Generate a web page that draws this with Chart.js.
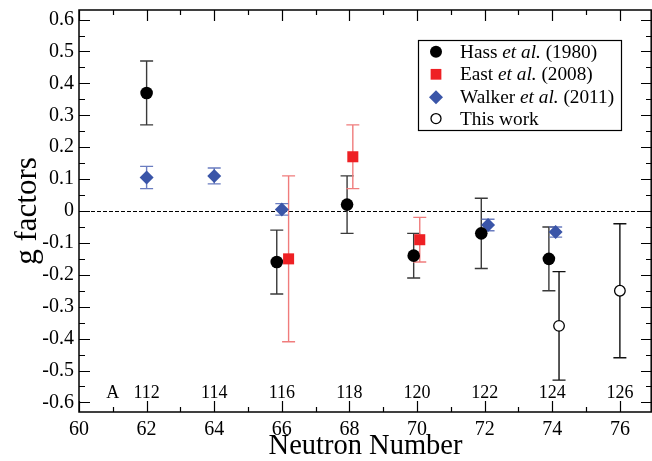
<!DOCTYPE html>
<html>
<head>
<meta charset="utf-8">
<script src="https://cdn.jsdelivr.net/npm/chart.js@4.4.1/dist/chart.umd.min.js"></script>
<style>
  html, body { margin: 0; padding: 0; background: #ffffff; }
  canvas { display: block; }
</style>
</head>
<body>
<canvas id="c" width="652" height="461"></canvas>
<script>
// ---------- data ----------
const hassN   = [62, 65.85, 67.93, 69.9, 71.9, 73.9];
const hassG   = [0.37, -0.16, 0.02, -0.14, -0.07, -0.15];
const hassErr = [0.10, 0.10, 0.09, 0.07, 0.11, 0.10];

const eastN   = [66.2, 68.1, 70.08];
const eastG   = [-0.15, 0.17, -0.09];
const eastErr = [0.26, 0.10, 0.07];

const walkerN   = [62, 64, 66, 72.1, 74.1];
const walkerG   = [0.105, 0.11, 0.005, -0.044, -0.066];
const walkerErr = [0.035, 0.025, 0.018, 0.018, 0.016];

const thisN   = [74.2, 76];
const thisG   = [-0.36, -0.25];
const thisErr = [0.17, 0.21];

const xTicks = [60, 62, 64, 66, 68, 70, 72, 74, 76];
const yTicks = [-0.6, -0.5, -0.4, -0.3, -0.2, -0.1, 0, 0.1, 0.2, 0.3, 0.4, 0.5, 0.6];
const yTickLabels = ['-0.6','-0.5','-0.4','-0.3','-0.2','-0.1','0','0.1','0.2','0.3','0.4','0.5','0.6'];

const massN      = [62, 64, 66, 68, 70, 72, 74, 76];
const massLabels = ['112', '114', '116', '118', '120', '122', '124', '126'];
const massTagN   = 61;
const massTag    = 'A';
const massY      = -0.57;

const legendLabels = [
  ['Hass ', 'et al.', ' (1980)'],
  ['East ', 'et al.', ' (2008)'],
  ['Walker ', 'et al.', ' (2011)'],
  ['This work', '', '']
];

const SERIF = 'Liberation Serif';
Chart.defaults.font.family = SERIF;
Chart.defaults.color = '#000';

function pts(xs, ys) { return xs.map((x, i) => ({ x: x, y: ys[i] })); }

// ---------- plugin: frame, inward ticks, zero line, error bars, annotations, legend ----------
const decor = {
  id: 'decor',
  beforeDatasetsDraw(chart) {
    const ctx = chart.ctx, xs = chart.scales.x, ys = chart.scales.y, a = chart.chartArea;
    ctx.save();
    ctx.strokeStyle = '#000';
    ctx.lineWidth = 1;
    ctx.setLineDash([4, 2]);
    ctx.beginPath();
    const y0 = Math.round(ys.getPixelForValue(0)) + 0.5;
    ctx.moveTo(a.left, y0); ctx.lineTo(a.right, y0);
    ctx.stroke();
    ctx.setLineDash([]);
    chart.data.datasets.forEach((ds) => {
      ctx.strokeStyle = ds.errColor;
      ctx.lineWidth = 1.4;
      ds.data.forEach((p, i) => {
        const e = ds.errors[i];
        const px = xs.getPixelForValue(p.x);
        const yt = ys.getPixelForValue(p.y + e);
        const yb = ys.getPixelForValue(p.y - e);
        const cw = 6.5;
        ctx.beginPath();
        ctx.moveTo(px, yt); ctx.lineTo(px, yb);
        ctx.moveTo(px - cw, yt); ctx.lineTo(px + cw, yt);
        ctx.moveTo(px - cw, yb); ctx.lineTo(px + cw, yb);
        ctx.stroke();
      });
    });
    ctx.restore();
  },
  afterDraw(chart) {
    const ctx = chart.ctx, xs = chart.scales.x, ys = chart.scales.y, a = chart.chartArea;
    ctx.save();
    ctx.strokeStyle = '#000';
    ctx.lineWidth = 1.5;
    ctx.strokeRect(a.left, a.top, a.right - a.left - 0.8, a.bottom - a.top);
    ctx.lineWidth = 1.2;
    ctx.beginPath();
    for (let n = 60; n <= 76; n++) {
      const px = Math.round(xs.getPixelForValue(n)) + 0.5;
      const len = (n % 2 === 0) ? 11 : 5;
      ctx.moveTo(px, a.bottom); ctx.lineTo(px, a.bottom - len);
      ctx.moveTo(px, a.top); ctx.lineTo(px, a.top + len);
    }
    for (let k = -12; k <= 12; k++) {
      const v = k * 0.05;
      const py = Math.round(ys.getPixelForValue(v)) + 0.5;
      const len = (k % 2 === 0) ? 11 : 6;
      ctx.moveTo(a.left, py); ctx.lineTo(a.left + len, py);
      ctx.moveTo(a.right, py); ctx.lineTo(a.right - len, py);
    }
    ctx.stroke();
    ctx.fillStyle = '#000';
    ctx.font = '18px "' + SERIF + '"';
    ctx.textAlign = 'center';
    ctx.textBaseline = 'middle';
    ctx.fillText(massTag, xs.getPixelForValue(massTagN), ys.getPixelForValue(massY));
    massN.forEach((n, i) => {
      ctx.fillText(massLabels[i], xs.getPixelForValue(n), ys.getPixelForValue(massY));
    });
    // legend
    const lx = 418, ly = 40, lw = 203, lh = 90;
    ctx.fillStyle = '#fff';
    ctx.fillRect(lx, ly, lw, lh);
    ctx.strokeStyle = '#000';
    ctx.lineWidth = 1.2;
    ctx.strokeRect(lx + 0.5, ly + 0.5, lw, lh);
    const rowY = [51.7, 74.3, 97.3, 118.6];
    chart.data.datasets.forEach((ds, i) => {
      const cy = rowY[i];
      ctx.save();
      ctx.fillStyle = ds.backgroundColor;
      ctx.strokeStyle = ds.borderColor;
      ctx.lineWidth = ds.borderWidth;
      ctx.beginPath();
      const r = ds.legendRadius;
      if (ds.pointStyle === 'circle') {
        ctx.arc(436, cy, r, 0, Math.PI * 2);
      } else if (ds.pointStyle === 'rect') {
        const s = r * Math.SQRT1_2;
        ctx.rect(436 - s, cy - s, 2 * s, 2 * s);
      } else {
        ctx.moveTo(436, cy - r); ctx.lineTo(436 + r, cy); ctx.lineTo(436, cy + r); ctx.lineTo(436 - r, cy); ctx.closePath();
      }
      ctx.fill();
      if (ds.borderWidth > 0) ctx.stroke();
      ctx.restore();
      const parts = legendLabels[i];
      let tx = 460;
      ctx.fillStyle = '#000';
      ctx.textAlign = 'left';
      ctx.textBaseline = 'middle';
      parts.forEach((t, j) => {
        if (!t) return;
        ctx.font = (j === 1 ? 'italic ' : '') + '19.3px "' + SERIF + '"';
        ctx.fillText(t, tx, cy + 1);
        tx += ctx.measureText(t).width;
      });
    });
    ctx.restore();
  }
};

new Chart(document.getElementById('c'), {
  type: 'scatter',
  data: {
    datasets: [
      {
        label: 'Hass et al. (1980)',
        data: pts(hassN, hassG), errors: hassErr, errColor: '#3a3a3a',
        pointStyle: 'circle', radius: 6.3, legendRadius: 6,
        backgroundColor: '#000', borderColor: '#000', borderWidth: 0
      },
      {
        label: 'East et al. (2008)',
        data: pts(eastN, eastG), errors: eastErr, errColor: '#f07c7c',
        pointStyle: 'rect', radius: 7.8, legendRadius: 7.6,
        backgroundColor: '#ee2024', borderColor: '#ee2024', borderWidth: 0
      },
      {
        label: 'Walker et al. (2011)',
        data: pts(walkerN, walkerG), errors: walkerErr, errColor: '#6a7cc0',
        pointStyle: 'rectRot', radius: 7, legendRadius: 7,
        backgroundColor: '#3a55a8', borderColor: '#3a55a8', borderWidth: 0
      },
      {
        label: 'This work',
        data: pts(thisN, thisG), errors: thisErr, errColor: '#111',
        pointStyle: 'circle', radius: 5.3, legendRadius: 5,
        backgroundColor: '#fff', borderColor: '#000', borderWidth: 1.3
      }
    ]
  },
  options: {
    responsive: false,
    animation: false,
    devicePixelRatio: 1,
    layout: { autoPadding: false, padding: { top: 10, right: 0, left: 0, bottom: 0 } },
    plugins: { legend: { display: false }, tooltip: { enabled: false } },
    elements: { point: { hoverRadius: 6 } },
    scales: {
      x: {
        type: 'linear', min: 60, max: 76.95,
        afterBuildTicks: (s) => { s.ticks = xTicks.map(v => ({ value: v })); },
        afterFit: (s) => { s.height = 49; s.paddingLeft = 0; s.paddingRight = 0; },
        grid: { display: false, drawTicks: false, tickLength: 0 },
        border: { display: false },
        ticks: { color: '#000', font: { family: SERIF, size: 20, weight: 'normal' }, padding: 6, maxRotation: 0, autoSkip: false,
                 callback: (v) => String(v) },
        title: { display: true, text: 'Neutron Number', color: '#000',
                 font: { family: SERIF, size: 28.5, lineHeight: 1.0 }, padding: { top: 0, bottom: 0 } }
      },
      y: {
        type: 'linear', min: -0.63, max: 0.63,
        afterBuildTicks: (s) => { s.ticks = yTicks.map(v => ({ value: v })); },
        afterFit: (s) => { s.width = 79; s.paddingTop = 0; s.paddingBottom = 0; },
        grid: { display: false, drawTicks: false, tickLength: 0 },
        border: { display: false },
        ticks: { color: '#000', font: { family: SERIF, size: 20, weight: 'normal' }, padding: 5, autoSkip: false,
                 callback: (v, i) => yTickLabels[i] },
        title: { display: true, text: 'g factors', color: '#000',
                 font: { family: SERIF, size: 31 }, padding: { top: 9, bottom: 0 } }
      }
    }
  },
  plugins: [decor]
});
</script>
</body>
</html>
